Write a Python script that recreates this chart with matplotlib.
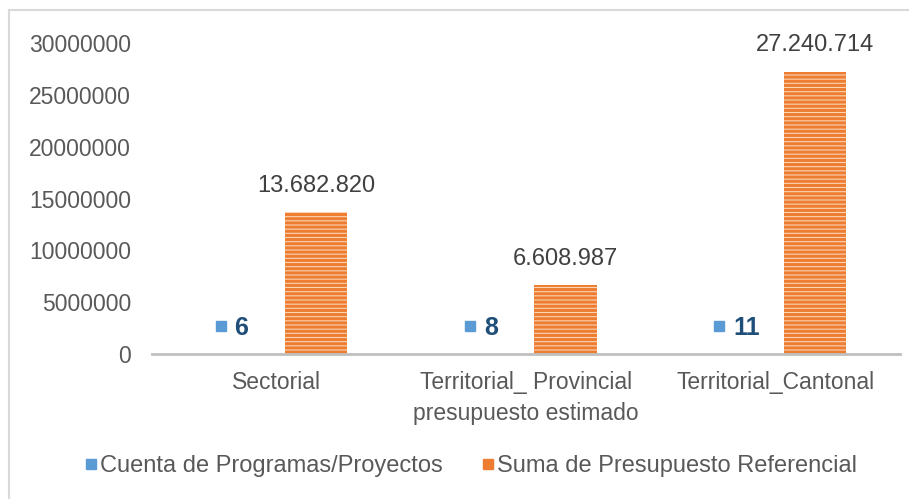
import numpy as np
import matplotlib.pyplot as plt
from matplotlib.lines import Line2D
from matplotlib.transforms import ScaledTranslation

plt.rcParams["font.family"] = ["Liberation Sans", "DejaVu Sans"]
plt.rcParams["hatch.linewidth"] = 2.2

# data
categories = ["Sectorial", "Territorial_ Provincial\npresupuesto estimado", "Territorial_Cantonal"]
cuenta = [6, 8, 11]
presupuesto = [13682820, 6608987, 27240714]
presupuesto_labels = ["13.682.820", "6.608.987", "27.240.714"]
yticks = [0, 5000000, 10000000, 15000000, 20000000, 25000000, 30000000]

BLUE = "#5b9bd5"
ORANGE = "#ed7d31"

fig = plt.figure(figsize=(9.09, 4.99), dpi=100)
ax = fig.add_axes([0.1672, 0.2906, 0.823, 0.6232])

x = np.arange(len(categories))
w = 0.25
gap = 0.033

ax.bar(x - gap - w / 2, cuenta, width=w, color=BLUE)
ax.bar(x + gap + w / 2, presupuesto, width=w, facecolor="#fbd3b5",
       edgecolor=ORANGE, hatch="----", linewidth=0)

# labels for orange bars
for xi, v, lab in zip(x, presupuesto, presupuesto_labels):
    ax.annotate(lab, (xi + gap + w / 2, v), xytext=(0, 11), textcoords="offset points",
                ha="center", va="bottom", fontsize=17, color="#404040")

# labels for count (with legend key)
for xi, c in zip(x, cuenta):
    bx = xi - gap - w / 2
    ax.annotate(str(c), (bx, 0), xytext=(-2, 19), textcoords="offset points",
                ha="left", va="center", fontsize=18, fontweight="bold", color="#1f4e79")
    mk, = ax.plot([bx], [0], marker="s", markersize=7, color=BLUE, linestyle="none",
                  clip_on=False)
    mk.set_transform(ax.transData + ScaledTranslation(-12 / 72, 20 / 72, fig.dpi_scale_trans))

ax.set_xlim(-0.5, 2.5)
ax.set_ylim(0, 30000000)
ax.set_yticks(yticks)
ax.set_yticklabels([str(t) for t in yticks])
ax.set_xticks(x)
ax.set_xticklabels(categories, linespacing=1.45)

for s in ["top", "right", "left"]:
    ax.spines[s].set_visible(False)
ax.spines["bottom"].set_color("#bfbfbf")
ax.spines["bottom"].set_linewidth(2)
ax.tick_params(axis="y", length=0, labelsize=16.5, labelcolor="#595959", pad=15)
ax.tick_params(axis="x", length=0, labelsize=16.5, labelcolor="#595959", pad=12)

handles = [
    Line2D([], [], marker="s", markersize=7, color=BLUE, linestyle="none"),
    Line2D([], [], marker="s", markersize=7, color=ORANGE, linestyle="none"),
]
fig.legend(handles, ["Cuenta de Programas/Proyectos", "Suma de Presupuesto Referencial"],
           loc="center", bbox_to_anchor=(0.515, 0.066), ncol=2, frameon=False,
           fontsize=17, labelcolor="#595959", handletextpad=-0.1, columnspacing=1.4,
           handlelength=1.0)

# chart frame (top and left edges)
fig.add_artist(Line2D([0.0099, 1.0], [0.98, 0.98], transform=fig.transFigure, color="#d9d9d9", linewidth=1.5))
fig.add_artist(Line2D([0.0099, 0.0099], [0.0, 0.98], transform=fig.transFigure, color="#d9d9d9", linewidth=1.5))

fig.savefig("out.png", dpi=100)
